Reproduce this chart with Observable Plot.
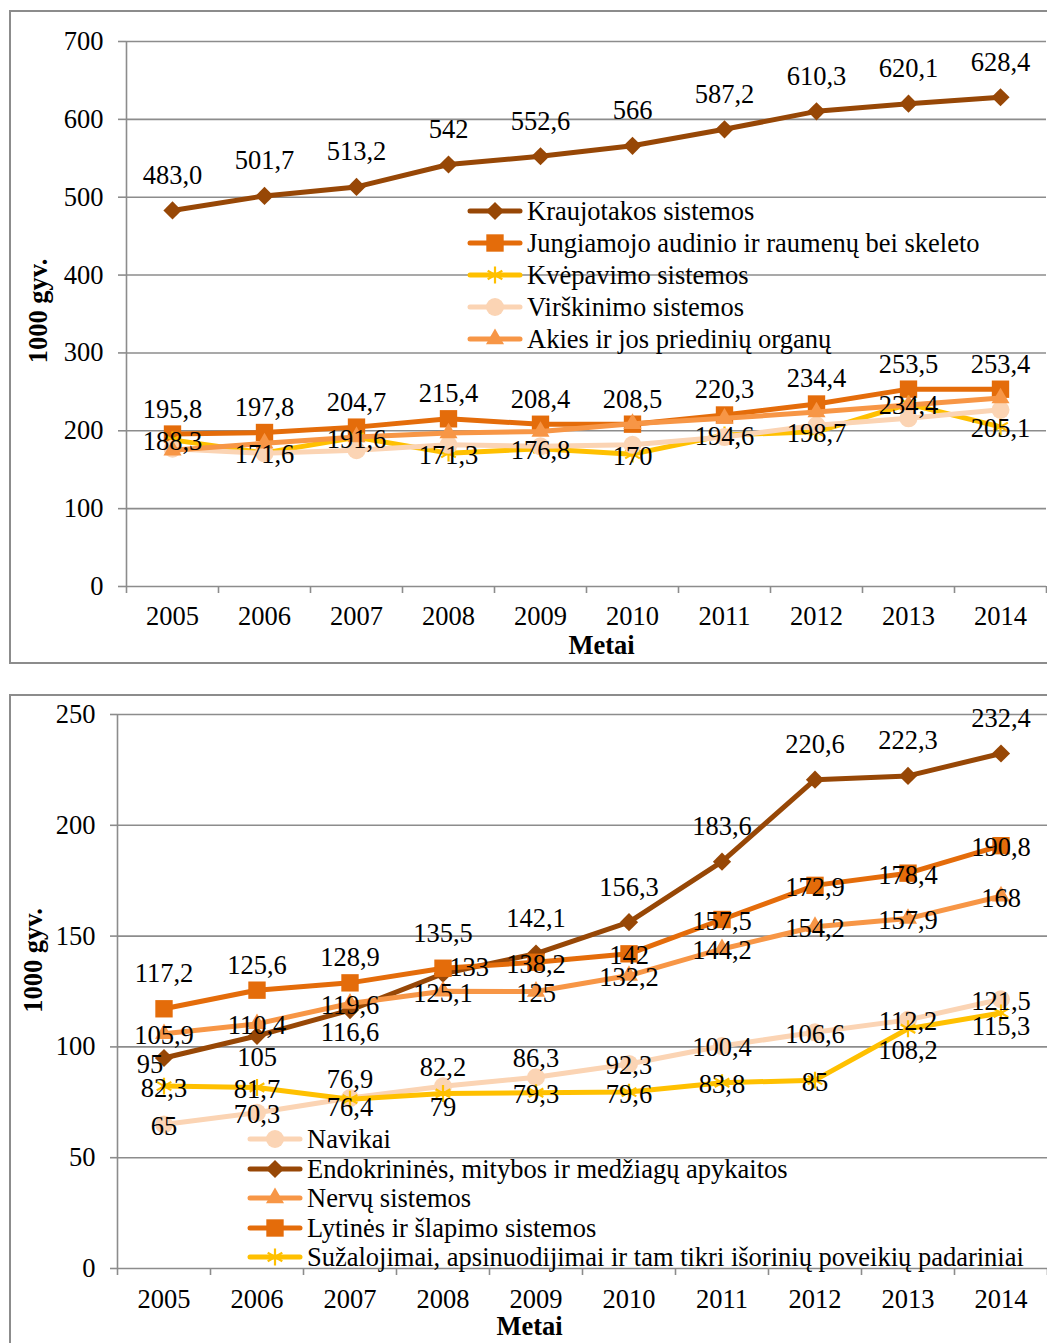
<!DOCTYPE html>
<html><head><meta charset="utf-8">
<script src="https://cdn.jsdelivr.net/npm/d3@7"></script>
<script src="https://cdn.jsdelivr.net/npm/@observablehq/plot@0.6"></script>
<style>
html,body{margin:0;padding:0;background:#fff;}
body{width:1047px;height:1343px;overflow:hidden;position:relative;font-family:"Liberation Serif","Times New Roman",serif;}
.panel{position:absolute;box-sizing:border-box;border:2px solid #8c8c8c;pointer-events:none;}
.chart{position:absolute;left:0;}
.legend{position:absolute;font-size:26.5px;color:#000;}
.legend .item{position:absolute;left:0;height:30px;display:flex;align-items:center;white-space:nowrap;line-height:30px;}
.legend .item span{margin-left:4px;}
</style></head><body>
<div id="chart1" class="chart" style="top:0"></div>
<div id="chart2" class="chart" style="top:680px"></div>
<div class="panel" style="left:9px;top:10px;width:1100px;height:654px"></div>
<div class="panel" style="left:9px;top:694px;width:1100px;height:700px"></div>
<div id="legend1" class="legend" style="left:467px;top:0"></div>
<div id="legend2" class="legend" style="left:247px;top:0"></div>
<script>
// ---------- data ----------
const years = [2005, 2006, 2007, 2008, 2009, 2010, 2011, 2012, 2013, 2014];

// top chart
const yTicksTop = [0, 100, 200, 300, 400, 500, 600, 700];
const kraujotakos = ["483,0","501,7","513,2","542","552,6","566","587,2","610,3","620,1","628,4"];
const jungiamojo  = ["195,8","197,8","204,7","215,4","208,4","208,5","220,3","234,4","253,5","253,4"];
const kvepavimo   = ["188,3","171,6","191,6","171,3","176,8","170","194,6","198,7","234,4","205,1"];
const virskinimo  = [177, 171, 175, 182, 180, 182, 192, 207, 216, 227];
const akies       = [175, 184, 192, 197, 199, 209, 216, 224, 233, 242];

// bottom chart
const yTicksBottom = [0, 50, 100, 150, 200, 250];
const navikai      = ["65","70,3","76,9","82,2","86,3","92,3","100,4","106,6","112,2","121,5"];
const endokrinines = ["95","105","116,6","133","142,1","156,3","183,6","220,6","222,3","232,4"];
const nervu        = ["105,9","110,4","119,6","125,1","125","132,2","144,2","154,2","157,9","168"];
const lytines      = ["117,2","125,6","128,9","135,5","138,2","142","157,5","172,9","178,4","190,8"];
const suzalojimai  = ["82,3","81,7","76,4","79","79,3","79,6","83,8","85","108,2","115,3"];

// data-label placement (a=above, s=slightly above, m=mid above, c=centre, d/e/b=below, r=right, w=below-left)
const kraujotakosPos  = ["a","a","a","a","a","a","a","a","a","a"];
const jungiamojoPos   = ["s","s","s","s","s","s","s","s","s","s"];
const kvepavimoPos    = ["c","c","c","c","c","c","c","c","c","c"];
const navikaiPos      = ["c","c","m","m","m","c","c","c","c","c"];
const endokrininesPos = ["w","b","b","r","a","a","a","a","a","a"];
const nervuPos        = ["c","c","c","c","c","c","c","c","c","c"];
const lytinesPos      = ["a","s","s","a","c","c","c","c","c","c"];
const suzalojimaiPos  = ["c","c","d","e","c","c","c","c","b","e"];

// ---------- styles ----------
const FS = 26.5;
const C = {brown:"#974706", orange:"#E46C0A", yellow:"#FFC000", peach:"#FBD4B4", light:"#F79646"};
const GRID = "#8c8c8c";
const offsets = {a:[0,-35], s:[0,-25], m:[0,-19], c:[0,2], d:[0,8], e:[0,14], b:[0,22], r:[26,-6], w:[-14,7]};
const symR = {diamond2:8.2, square:9.8, asterisk:8, circle:9, triangle:6.7};

const num = v => typeof v === "string" ? +v.replace(",", ".") : v;

const seriesTop = [
  {name:"Kraujotakos sistemos", values:kraujotakos, pos:kraujotakosPos, color:C.brown, symbol:"diamond2"},
  {name:"Jungiamojo audinio ir raumenų bei skeleto", values:jungiamojo, pos:jungiamojoPos, color:C.orange, symbol:"square"},
  {name:"Kvėpavimo sistemos", values:kvepavimo, pos:kvepavimoPos, color:C.yellow, symbol:"asterisk"},
  {name:"Virškinimo sistemos", values:virskinimo, pos:null, color:C.peach, symbol:"circle"},
  {name:"Akies ir jos priedinių organų", values:akies, pos:null, color:C.light, symbol:"triangle"}
];
const seriesBottom = [
  {name:"Navikai", values:navikai, pos:navikaiPos, color:C.peach, symbol:"circle"},
  {name:"Endokrininės, mitybos ir medžiagų apykaitos", values:endokrinines, pos:endokrininesPos, color:C.brown, symbol:"diamond2"},
  {name:"Nervų sistemos", values:nervu, pos:nervuPos, color:C.light, symbol:"triangle"},
  {name:"Lytinės ir šlapimo sistemos", values:lytines, pos:lytinesPos, color:C.orange, symbol:"square"},
  {name:"Sužalojimai, apsinuodijimai ir tam tikri išorinių poveikių padariniai", values:suzalojimai, pos:suzalojimaiPos, color:C.yellow, symbol:"asterisk"}
];

function rowsOf(s) {
  return years.map((yr, i) => ({
    year: yr,
    value: num(s.values[i]),
    label: typeof s.values[i] === "string" ? s.values[i] : null,
    pos: s.pos ? s.pos[i] : null
  }));
}

function seriesMarks(s) {
  const rows = rowsOf(s);
  const star = s.symbol === "asterisk";
  return [
    Plot.line(rows, {x:"year", y:"value", stroke:s.color, strokeWidth:5, strokeLinejoin:"round", strokeLinecap:"round"}),
    Plot.dot(rows, {x:"year", y:"value", symbol:s.symbol, r:symR[s.symbol],
      fill: star ? "none" : s.color, stroke: star ? s.color : "none", strokeWidth: star ? 2.2 : 0})
  ];
}
function labelMarks(s) {
  if (!s.pos) return [];
  const rows = rowsOf(s);
  return Object.keys(offsets).map(k => {
    const sub = rows.filter(d => d.pos === k);
    if (!sub.length) return null;
    return Plot.text(sub, {x:"year", y:"value", text:"label", dx:offsets[k][0], dy:offsets[k][1], fill:"black", fontSize:FS});
  }).filter(Boolean);
}

function makeChart(cfg) {
  const xDomain = [years[0] - 0.5, years[years.length - 1] + 0.5];
  const bounds = [xDomain[0]].concat(years.map(y => y + 0.5));
  return Plot.plot({
    width: 1047, height: cfg.height,
    marginLeft: cfg.ml, marginRight: cfg.mr, marginTop: cfg.mt, marginBottom: cfg.mb,
    style: {background:"transparent", fontFamily:"Liberation Serif, Times New Roman, serif", fontSize:FS + "px", color:"black", overflow:"visible"},
    x: {type:"linear", domain:xDomain, label:null},
    y: {domain:[0, cfg.yTicks[cfg.yTicks.length - 1]], label:null},
    marks: [
      Plot.ruleY(cfg.yTicks, {stroke:GRID, strokeWidth:1.6}),
      Plot.ruleX([xDomain[0]], {stroke:GRID, strokeWidth:1.6}),
      Plot.axisY(cfg.yTicks, {tickSize:cfg.yTickSize, tickPadding:15, stroke:GRID, strokeWidth:1.6, tickFormat:d => String(d), fontSize:FS}),
      Plot.axisX(bounds, {tickSize:7, tickFormat:() => "", stroke:GRID, strokeWidth:1.6}),
      Plot.axisX(years, {tickSize:0, tickPadding:cfg.xPad, tickFormat:d => String(d), fontSize:FS}),
      ...cfg.series.flatMap(seriesMarks),
      ...cfg.series.flatMap(labelMarks),
      Plot.text(["1000 gyv."], {text:d => d, frameAnchor:"left", textAnchor:"middle", lineAnchor:"middle", rotate:-90,
        dx:cfg.yTitle[0], dy:cfg.yTitle[1], fontWeight:"bold", fontSize:FS}),
      Plot.text(["Metai"], {text:d => d, frameAnchor:"bottom", textAnchor:"middle", lineAnchor:"middle",
        dx:cfg.xTitle[0], dy:cfg.xTitle[1], fontWeight:"bold", fontSize:FS})
    ]
  });
}

document.getElementById("chart1").append(makeChart({
  height:665, ml:126, mr:1, mt:41, mb:79, yTicks:yTicksTop, yTickSize:8, xPad:20,
  series:seriesTop, yTitle:[-88,-3], xTitle:[15,59]
}));
document.getElementById("chart2").append(makeChart({
  height:663, ml:117, mr:0, mt:34, mb:75, yTicks:yTicksBottom, yTickSize:7, xPad:21,
  series:seriesBottom, yTitle:[-84,-31], xTitle:[-53,58]
}));

// ---------- legends ----------
function legend(el, series, centers) {
  series.forEach((s, i) => {
    const item = document.createElement("div");
    item.className = "item";
    item.style.top = (centers[i] - 15) + "px";
    const svg = d3.create("svg").attr("width", 56).attr("height", 30);
    svg.append("line").attr("x1", 3).attr("x2", 53).attr("y1", 15).attr("y2", 15)
      .attr("stroke", s.color).attr("stroke-width", 5).attr("stroke-linecap", "round");
    const symMap = {diamond2:d3.symbolDiamond2, square:d3.symbolSquare, asterisk:d3.symbolAsterisk, circle:d3.symbolCircle, triangle:d3.symbolTriangle};
    const r = symR[s.symbol];
    const star = s.symbol === "asterisk";
    svg.append("path").attr("transform", "translate(28,15)")
      .attr("d", d3.symbol(symMap[s.symbol], Math.PI * r * r)())
      .attr("fill", star ? "none" : s.color).attr("stroke", star ? s.color : "none").attr("stroke-width", 2.2);
    item.append(svg.node());
    const span = document.createElement("span");
    span.textContent = s.name;
    item.append(span);
    el.append(item);
  });
}
legend(document.getElementById("legend1"), seriesTop, [211, 243, 275, 307, 339]);
legend(document.getElementById("legend2"), seriesBottom, [1139, 1169, 1198, 1228, 1257]);
</script>
</body></html>
